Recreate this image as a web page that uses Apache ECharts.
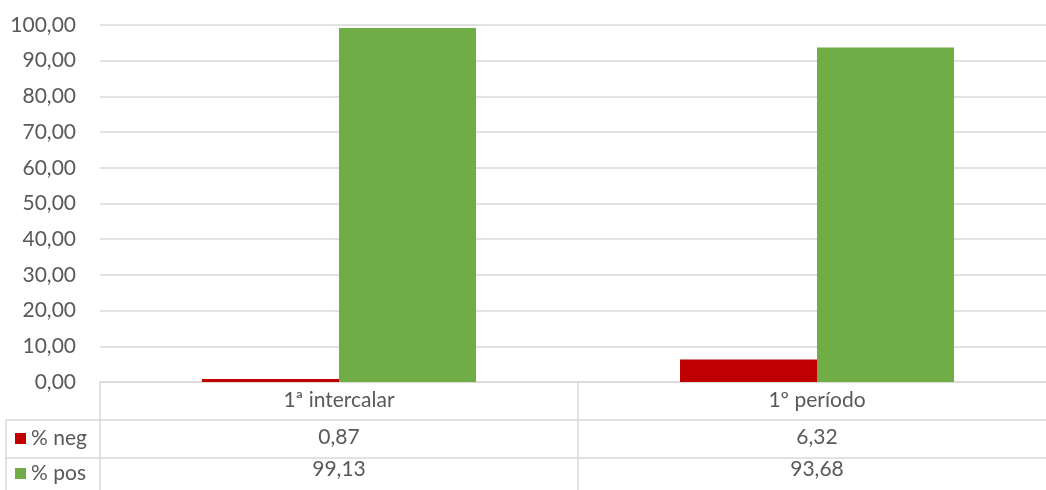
<!DOCTYPE html>
<html>
<head>
<meta charset="utf-8">
<script src="https://cdn.jsdelivr.net/npm/echarts@6/dist/echarts.min.js"></script>
<style>html,body{margin:0;padding:0;background:#fff}#c{width:1046px;height:490px}</style>
</head>
<body>
<div id="c"></div>
<script>
var categories = ['1ª intercalar', '1º período'];
var seriesNames = ['% neg', '% pos'];
var negValues = [0.87, 6.32];
var posValues = [99.13, 93.68];

var FONT = 'Lato';
var FS = 21;
var TXT = '#595959';
var LINE = '#d9d9d9';
function fmt(v) { return v.toFixed(2).replace('.', ','); }

var chart = echarts.init(document.getElementById('c'));
chart.setOption({
  animation: false,
  textStyle: { fontFamily: FONT },
  grid: { left: 100, top: 25, width: 956, bottom: 108, containLabel: false, outerBoundsMode: 'none' },
  legend: {
    orient: 'vertical', left: 15, top: 428, padding: 0,
    itemWidth: 11, itemHeight: 11, itemGap: 14, icon: 'rect',
    textStyle: { fontFamily: FONT, fontSize: FS, color: TXT, lineHeight: 20 },
    data: seriesNames
  },
  xAxis: {
    type: 'category', data: categories,
    axisLine: { lineStyle: { color: LINE, width: 1.5 } },
    axisTick: { show: true, length: 115, lineStyle: { color: LINE, width: 1.5 } },
    axisLabel: {
      margin: 0, interval: 0,
      formatter: function (v, i) {
        return '{a|' + v + '}\n{b|' + fmt(negValues[i]) + '}\n{c|' + fmt(posValues[i]) + '}';
      },
      rich: {
        a: { fontFamily: FONT, fontSize: FS, color: TXT, lineHeight: 37 },
        b: { fontFamily: FONT, fontSize: FS, color: TXT, lineHeight: 37 },
        c: { fontFamily: FONT, fontSize: FS, color: TXT, lineHeight: 27 }
      }
    }
  },
  yAxis: {
    type: 'value', min: 0, max: 100, interval: 10,
    axisLine: { show: false }, axisTick: { show: false },
    splitLine: { lineStyle: { color: LINE, width: 1.5 } },
    axisLabel: { margin: 24, fontFamily: FONT, fontSize: FS, color: TXT, formatter: fmt }
  },
  series: [
    { name: seriesNames[0], type: 'bar', data: negValues, barWidth: 137, barGap: '0%', itemStyle: { color: '#c00000' } },
    { name: seriesNames[1], type: 'bar', data: posValues, barWidth: 137, barGap: '0%', itemStyle: { color: '#70ad47' } }
  ],
  graphic: [
    { type: 'line', shape: { x1: 6, y1: 420, x2: 1046, y2: 420 }, style: { stroke: LINE, lineWidth: 1.5 } },
    { type: 'line', shape: { x1: 6, y1: 458, x2: 1046, y2: 458 }, style: { stroke: LINE, lineWidth: 1.5 } },
    { type: 'line', shape: { x1: 6, y1: 420, x2: 6, y2: 490 }, style: { stroke: LINE, lineWidth: 1.5 } }
  ]
});
</script>
</body>
</html>
